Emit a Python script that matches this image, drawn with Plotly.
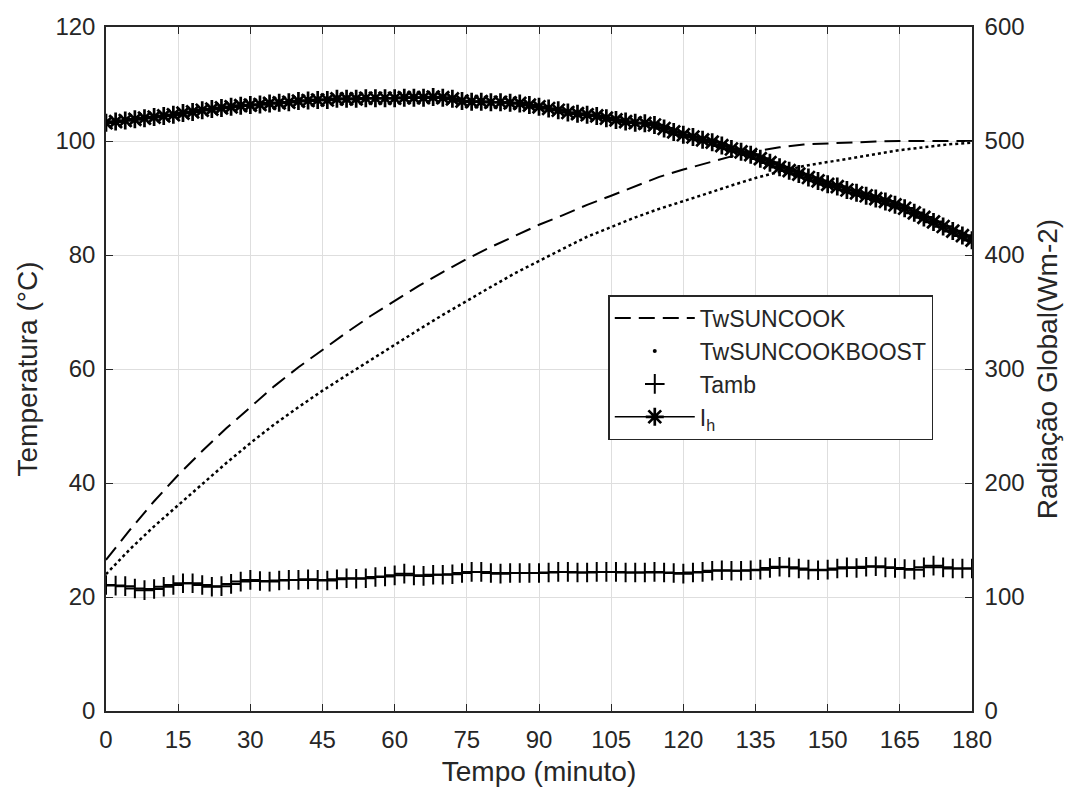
import plotly.graph_objects as go

# ---- data ----
t5 = list(range(0, 181, 5))          # minutes, every 5 min
tw_suncook = [26.5, 31.8, 36.8, 41.4, 45.6, 49.6, 53.3, 57.0, 60.3, 63.4,
              66.4, 69.3, 72.0, 74.6, 77.0, 79.3, 81.4, 83.4, 85.3, 87.0,
              88.8, 90.4, 92.0, 93.7, 95.0, 96.2, 97.3, 98.2, 98.9, 99.4,
              99.6, 99.8, 99.9, 100.0, 100.0, 100.0, 100.0]
tw_boost = [24.0, 28.4, 32.4, 36.1, 39.9, 43.5, 47.0, 50.3, 53.3, 56.2,
            58.9, 61.6, 64.2, 66.9, 69.5, 72.0, 74.4, 76.8, 79.0, 81.1,
            83.2, 84.9, 86.6, 88.1, 89.4, 90.8, 92.2, 93.5, 94.6, 95.6,
            96.3, 97.0, 97.7, 98.4, 98.9, 99.4, 99.7]

t2 = list(range(0, 181, 2))          # minutes, every 2 min
tamb = [22.1, 22.0, 21.9, 21.5, 21.2, 21.4, 21.8, 22.1, 22.4, 22.4,
        22.1, 21.8, 21.9, 22.3, 22.7, 23.0, 22.8, 22.7, 22.9, 23.0,
        23.0, 23.1, 23.0, 22.9, 23.1, 23.3, 23.2, 23.3, 23.5, 23.6,
        23.8, 24.1, 23.8, 23.7, 23.9, 23.9, 24.0, 24.2, 24.4, 24.4,
        24.2, 24.1, 24.2, 24.2, 24.2, 24.2, 24.3, 24.4, 24.4, 24.3,
        24.3, 24.4, 24.4, 24.4, 24.3, 24.3, 24.3, 24.4, 24.3, 24.2,
        24.1, 24.3, 24.4, 24.6, 24.7, 24.6, 24.6, 24.7, 24.8, 25.1,
        25.3, 25.2, 25.0, 24.8, 24.7, 24.8, 25.0, 25.2, 25.1, 25.3,
        25.4, 25.2, 25.1, 24.9, 24.8, 25.2, 25.5, 25.2, 25.0, 25.0,
        25.0]
ih = [516, 517, 518, 519, 520, 521, 522, 523, 524.5, 525.5,
      527, 528, 529, 530, 531, 531.5, 532, 533, 533.5, 534,
      535, 535.5, 536, 536, 537, 537, 537, 537.5, 537.5, 537.5,
      537.5, 538, 538, 538, 538.5, 538, 537, 535, 534.5, 534.5,
      534, 534, 533.5, 533, 531.5, 530, 528.5, 527, 525, 524,
      523, 522, 520, 518.5, 517, 516, 515.5, 514, 511, 508,
      505.5, 503.5, 501, 499, 496, 493, 490.5, 488, 484.5, 481,
      477, 474, 471, 468, 465, 462, 460, 457, 454.5, 452,
      449.5, 447, 444, 441, 437, 433, 429, 425, 421, 417,
      413]

x_ticks = list(range(0, 181, 15))
y_ticks = list(range(0, 121, 20))
y2_ticks = list(range(0, 601, 100))

FONT = "Liberation Sans, Arial, sans-serif"
TXT = "#262626"
GRID = "#dedede"
TICK_SIZE = 24
TITLE_SIZE = 28
LEG_SIZE = 23

fig = go.Figure()

fig.add_trace(go.Scatter(x=t5, y=tw_suncook, name="TwSUNCOOK", mode="lines",
                         line=dict(color="black", width=2, dash="16px,8px"),
                         legendgroup="a", legendrank=1))
fig.add_trace(go.Scatter(x=t5, y=tw_boost, name="TwSUNCOOKBOOST", mode="lines",
                         line=dict(color="black", width=2.5, dash="dot"),
                         legendgroup="b", showlegend=False))
fig.add_trace(go.Scatter(x=[None], y=[None], name="TwSUNCOOKBOOST", mode="markers",
                         marker=dict(color="black", size=4, symbol="circle"),
                         legendgroup="b", legendrank=2))
fig.add_trace(go.Scatter(x=t2, y=tamb, name="Tamb", mode="markers",
                         marker=dict(symbol="cross-thin-open", size=14, color="black",
                                     line=dict(color="black", width=2)),
                         legendgroup="c", legendrank=3))
fig.add_trace(go.Scatter(x=t2, y=ih, name="I<sub>h</sub>", mode="lines+markers",
                         yaxis="y2",
                         line=dict(color="black", width=1.5),
                         marker=dict(symbol="asterisk-open", size=15, color="black",
                                     line=dict(color="black", width=2.7)),
                         legendgroup="d", legendrank=4))

fig.update_layout(
    width=1075, height=796,
    margin=dict(l=106, r=103, t=27, b=85),
    paper_bgcolor="white", plot_bgcolor="white",
    font=dict(family=FONT, size=TICK_SIZE, color=TXT),
    xaxis=dict(range=[0, 180], tickvals=x_ticks, showgrid=True, gridcolor=GRID,
               gridwidth=1, showline=True, linecolor="#262626", linewidth=1.5,
               mirror="ticks", ticks="inside", ticklen=7, tickcolor="#262626",
               zeroline=False, ticklabelstandoff=6,
               tickfont=dict(size=TICK_SIZE),
               title=dict(text="Tempo (minuto)", font=dict(size=TITLE_SIZE), standoff=10)),
    yaxis=dict(range=[0, 120], tickvals=y_ticks, showgrid=True, gridcolor=GRID,
               gridwidth=1, showline=True, linecolor="#262626", linewidth=1.5,
               ticks="inside", ticklen=7, tickcolor="#262626", zeroline=False,
               ticklabelstandoff=4, tickfont=dict(size=TICK_SIZE),
               title=dict(text="Temperatura (°C)", font=dict(size=TITLE_SIZE), standoff=10)),
    yaxis2=dict(range=[0, 600], tickvals=y2_ticks, overlaying="y", side="right",
                showgrid=False, showline=True, linecolor="#262626", linewidth=1.5,
                ticks="inside", ticklen=7, tickcolor="#262626", zeroline=False,
                ticklabelstandoff=6, tickfont=dict(size=TICK_SIZE),
                title=dict(text="Radiação Global(Wm-2)", font=dict(size=TITLE_SIZE), standoff=14)),
    legend=dict(x=0.58, y=0.608, xanchor="left", yanchor="top",
                bgcolor="white", bordercolor="#262626", borderwidth=1.5,
                font=dict(size=LEG_SIZE, color=TXT), itemwidth=80,
                traceorder="normal", tracegroupgap=4),
    showlegend=True,
)

fig.write_html("out.html")
